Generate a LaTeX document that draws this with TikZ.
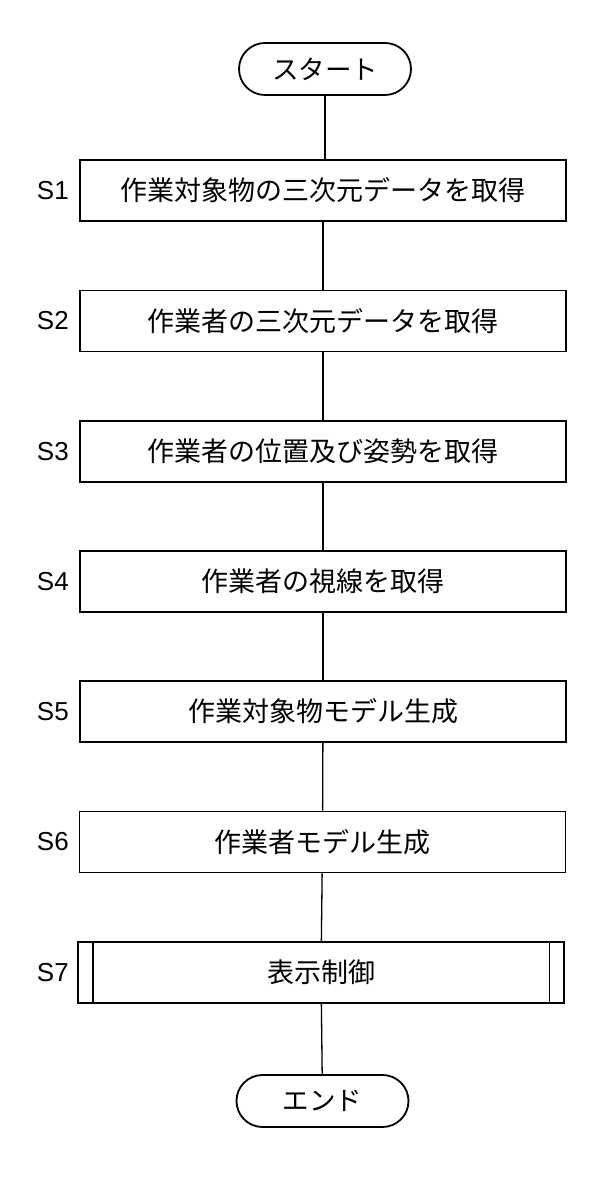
\documentclass[tikz,border=0pt]{standalone}
\usepackage{fontspec}
\setmainfont{Liberation Sans}
\newfontfamily\jp{Noto Sans CJK JP}
\usetikzlibrary{shapes.misc}
\begin{document}
\begin{tikzpicture}[x=1pt,y=1pt,
  stepbox/.style={draw=black,line width=1.8pt,minimum width=486pt,minimum height=61pt,inner sep=0pt,font=\jp\fontsize{27}{31}\selectfont},
  term/.style={draw=black,line width=1.8pt,rounded rectangle,minimum width=172pt,minimum height=52pt,inner sep=0pt,font=\jp\fontsize{26.5}{30}\selectfont},
  steplabel/.style={anchor=east,inner sep=0pt,font=\fontsize{26}{29}\selectfont},
  conn/.style={draw=black,line width=1.3pt}]
\useasboundingbox (0,0) rectangle (591,1181);
\node[term] (start) at (325,1112) {スタート};
\node[stepbox] (s1) at (323,990.5) {作業対象物の三次元データを取得};
\node[stepbox] (s2) at (323,860) {作業者の三次元データを取得};
\node[stepbox] (s3) at (323,729.5) {作業者の位置及び姿勢を取得};
\node[stepbox] (s4) at (323,599.5) {作業者の視線を取得};
\node[stepbox] (s5) at (323,469.5) {作業対象物モデル生成};
\node[stepbox] (s6) at (322.5,339) {作業者モデル生成};
\node[stepbox] (s7) at (321,208.5) {表示制御};
\node[term] (end) at (322.5,80) {エンド};
\draw[line width=1.8pt] ([xshift=15.5pt]s7.north west) -- ([xshift=15.5pt]s7.south west);
\draw[line width=1.8pt] ([xshift=-15.5pt]s7.north east) -- ([xshift=-15.5pt]s7.south east);
\node[steplabel] (l1) at (69,990.5) {S1};
\node[steplabel] (l2) at (69,860) {S2};
\node[steplabel] (l3) at (69,729.5) {S3};
\node[steplabel] (l4) at (69,599.5) {S4};
\node[steplabel] (l5) at (69,469.5) {S5};
\node[steplabel] (l6) at (69,339) {S6};
\node[steplabel] (l7) at (69,208.5) {S7};
\draw[conn] (start.south) -- (start.south |- s1.north);
\draw[conn] (s1) -- (s2);
\draw[conn] (s2) -- (s3);
\draw[conn] (s3) -- (s4);
\draw[conn] (s4) -- (s5);
\draw[conn] (s5) -- (s6);
\draw[conn] (s6) -- (s7);
\draw[conn] (s7) -- (end);
\end{tikzpicture}
\end{document}
